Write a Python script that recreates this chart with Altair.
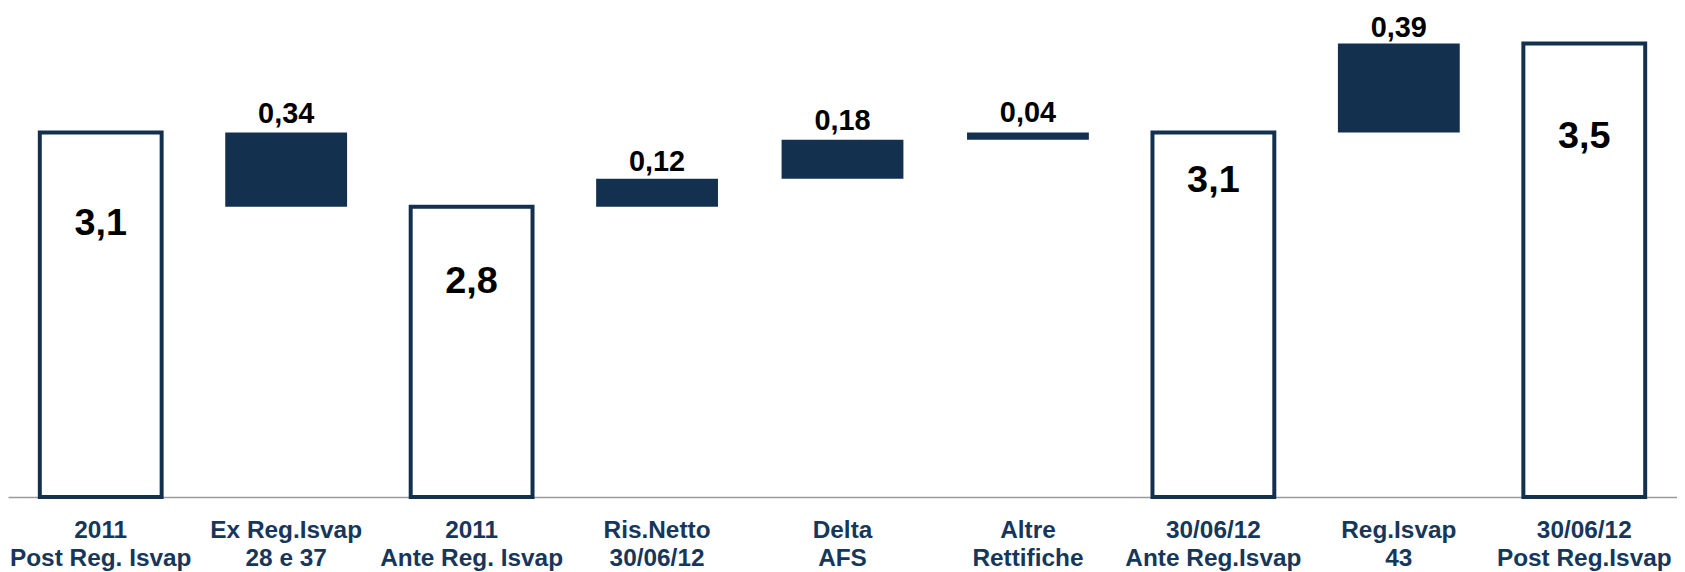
import altair as alt
import pandas as pd

# Categories (two text lines each)
cat_line1 = ["2011", "Ex Reg.Isvap", "2011", "Ris.Netto", "Delta", "Altre",
             "30/06/12", "Reg.Isvap", "30/06/12"]
cat_line2 = ["Post Reg. Isvap", "28 e 37", "Ante Reg. Isvap", "30/06/12", "AFS",
             "Rettifiche", "Ante Reg.Isvap", "43", "Post Reg.Isvap"]

# Bar kinds: total (outlined) or delta (filled)
kind = ["total", "delta", "total", "delta", "delta", "delta", "total", "delta", "total"]

# Drawn bar levels (drawn scale)
level_start = [0.00, 2.99, 0.00, 2.38, 2.61, 2.93, 0.00, 2.99, 0.00]
level_end = [2.99, 2.38, 2.38, 2.61, 2.93, 2.99, 2.99, 3.72, 3.72]

# Value labels and their drawn positions
value_label = ["3,1", "0,34", "2,8", "0,12", "0,18", "0,04", "3,1", "0,39", "3,5"]
label_level = [2.15, 3.07, 1.67, 2.67, 3.01, 3.08, 2.50, 3.77, 2.86]

cats = [a + "\n" + b for a, b in zip(cat_line1, cat_line2)]
df = pd.DataFrame({
    "cat": cats,
    "kind": kind,
    "start": level_start,
    "end": level_end,
    "label": value_label,
    "ly": label_level,
})

NAVY = "#13314f"
FONT = "Liberation Sans"

x_enc = alt.X(
    "cat:N",
    sort=cats,
    scale=alt.Scale(paddingInner=0.343, paddingOuter=0.1715),
    axis=alt.Axis(
        title=None,
        ticks=False,
        labelAngle=0,
        labelPadding=22,
        labelFont=FONT,
        labelFontSize=24.5,
        labelFontWeight="bold",
        labelColor="#17375a",
        labelLineHeight=27.4,
        labelLimit=0,
        labelOverlap=False,
        labelFlush=False,
        labelExpr="split(datum.value, '\\n')",
        domainColor="#9a9a9a",
        domainWidth=1.6,
        grid=False,
    ),
)
y_scale = alt.Scale(domain=[0, 4.0], nice=False, zero=True)

base = alt.Chart(df)

totals = base.transform_filter(alt.datum.kind == "total").mark_bar(
    fill="white", stroke=NAVY, strokeWidth=4
).encode(
    x=x_enc,
    y=alt.Y("start:Q", scale=y_scale, axis=None),
    y2="end:Q",
)

deltas = base.transform_filter(alt.datum.kind == "delta").mark_bar(
    fill=NAVY
).encode(
    x=x_enc,
    y=alt.Y("start:Q", scale=y_scale, axis=None),
    y2="end:Q",
)

big_text = base.transform_filter(alt.datum.kind == "total").mark_text(
    font=FONT, fontSize=38, fontWeight="bold", color="black", baseline="alphabetic"
).encode(
    x=x_enc,
    y=alt.Y("ly:Q", scale=y_scale, axis=None),
    text="label:N",
)

small_text = base.transform_filter(alt.datum.kind == "delta").mark_text(
    font=FONT, fontSize=29, fontWeight="bold", color="black", baseline="alphabetic"
).encode(
    x=x_enc,
    y=alt.Y("ly:Q", scale=y_scale, axis=None),
    text="label:N",
)

chart = alt.layer(totals, deltas, big_text, small_text).properties(
    width=1677, height=490, padding=0, background="white"
).configure_view(stroke=None, strokeWidth=0)

chart.save("out.html", embed_options={"renderer": "svg", "actions": False})
